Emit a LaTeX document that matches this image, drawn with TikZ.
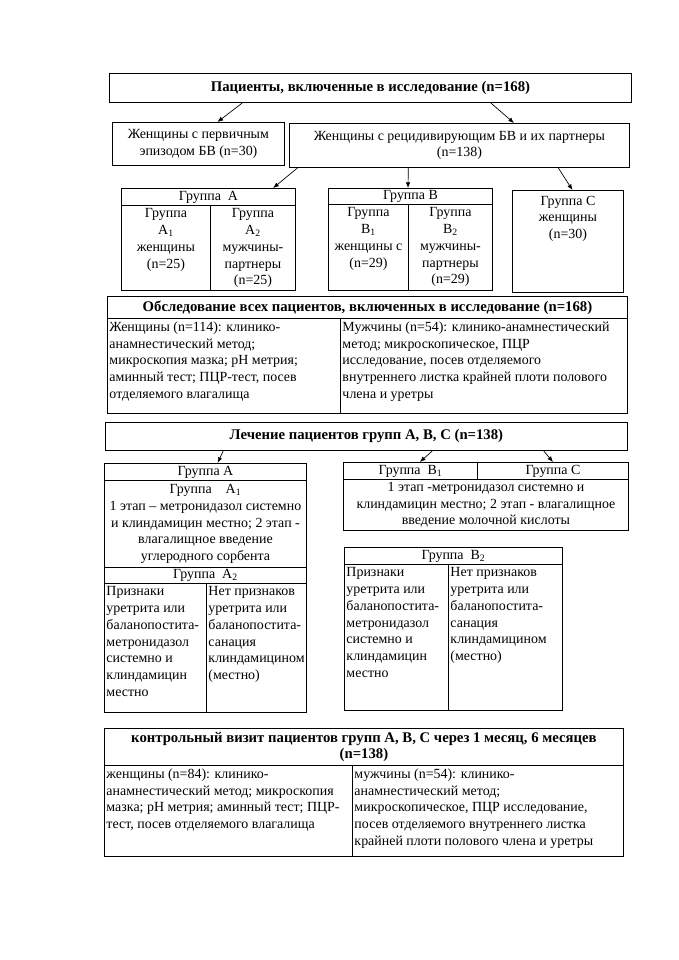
\documentclass[tikz,border=0pt]{standalone}
\usepackage{fontspec}
\setmainfont{Liberation Serif}
\usetikzlibrary{positioning,arrows.meta,calc}
\newcommand{\pxl}{0.031cm}
\newcommand{\headfont}{\fontsize{13}{14.6}\selectfont\bfseries}

\begin{document}
\begin{tikzpicture}[
        x=\pxl, y=-\pxl,
        >={Latex[length=5pt,width=4pt]},
        font=\fontsize{12.3}{14.8}\selectfont,
        cell/.style 2 args={
            draw,
            line width=0.8pt,
            anchor=north west,
            inner sep=1pt,
            minimum width=#1*\pxl,
            minimum height=#2*\pxl,
            align=center
        },
        txt/.style={inner sep=1pt, align=center},
        ltxt/.style={inner sep=2pt, align=left, anchor=north west, yshift=-1pt},
        link/.style={->, line width=0.6pt}
    ]
        \useasboundingbox (0,0) rectangle (678,960);

        % all patients
        \node[cell={522}{29}, font=\headfont] (all) at (109,73) {Пациенты, включенные в исследование (n=168)};
        \node[cell={172}{43}] (prim) at (112,122) {Женщины с первичным\\эпизодом БВ (n=30)};
        \node[cell={340}{44}] (recur) at (289,123) {Женщины с рецидивирующим БВ и их партнеры\\(n=138)};

        % groups A, B, C
        \node[cell={174}{17}] (grA) at (121,188) {Группа\ \ A};
        \node[cell={89}{85}] (grA1) at (121,205) {};
        \node[cell={85}{85}] (grA2) at (210,205) {};
        \node[txt, below=2pt of grA1.north] (grA1t) {Группа\\A\textsubscript{1}\\женщины\\(n=25)};
        \node[txt, below=2pt of grA2.north] (grA2t) {Группа\\A\textsubscript{2}\\мужчины-\\партнеры\\(n=25)};

        \node[cell={164}{16}] (grB) at (328,188) {Группа B};
        \node[cell={80}{86}] (grB1) at (328,204) {};
        \node[cell={84}{86}] (grB2) at (408,204) {};
        \node[txt, below=2pt of grB1.north] (grB1t) {Группа\\B\textsubscript{1}\\женщины с\\(n=29)};
        \node[txt, below=2pt of grB2.north] (grB2t) {Группа\\B\textsubscript{2}\\мужчины-\\партнеры\\(n=29)};

        \node[cell={111}{102}] (grC) at (512,190) {};
        \node[txt, below=4pt of grC.north] (grCt) {Группа C\\женщины\\(n=30)};

        \draw[link] ($(all.south west)!0.255!(all.south east)$) -- ($(prim.north west)!0.61!(prim.north east)$);
        \draw[link] ($(all.south west)!0.73!(all.south east)$) -- ($(recur.north west)!0.66!(recur.north east)$);
        \draw[link] ($(recur.south west)!0.025!(recur.south east)$) -- ($(grA.north west)!0.87!(grA.north east)$);
        \draw[link] ($(recur.south west)!0.35!(recur.south east)$) -- (grB.north -| grB2.west);
        \draw[link] ($(recur.south west)!0.79!(recur.south east)$) -- ($(grC.north west)!0.54!(grC.north east)$);

        % examination
        \node[cell={520}{22}, font=\headfont] (exam) at (107,296) {Обследование всех пациентов, включенных в исследование (n=168)};
        \node[cell={233}{95}] (examF) at (107,318) {};
        \node[cell={287}{95}] (examM) at (340,318) {};
        \node[ltxt] (examFt) at (examF.north west) {Женщины (n=114): клинико-\\анамнестический метод;\\микроскопия мазка; pH метрия;\\аминный тест; ПЦР-тест, посев\\отделяемого влагалища};
        \node[ltxt] (examMt) at (examM.north west) {Мужчины (n=54): клинико-анамнестический\\метод; микроскопическое, ПЦР\\исследование, посев отделяемого\\внутреннего листка крайней плоти полового\\члена и уретры};

        % treatment
        \node[cell={522}{28}, font=\headfont] (treat) at (105,422) {Лечение пациентов групп A, B, C (n=138)};

        \node[cell={202}{17}] (trA) at (104,463) {Группа A};
        \node[cell={202}{87}] (trA1) at (104,480) {Группа\quad A\textsubscript{1}\\1 этап – метронидазол системно\\и клиндамицин местно; 2 этап -\\влагалищное введение\\углеродного сорбента};
        \node[cell={202}{16}] (trA2) at (104,567) {Группа\ \ A\textsubscript{2}};
        \node[cell={102}{129}] (trA2l) at (104,583) {};
        \node[cell={100}{129}] (trA2r) at (206,583) {};
        \node[ltxt] (trA2lt) at (trA2l.north west) {Признаки\\уретрита или\\баланопостита-\\метронидазол\\системно и\\клиндамицин\\местно};
        \node[ltxt] (trA2rt) at (trA2r.north west) {Нет признаков\\уретрита или\\баланопостита-\\санация\\клиндамицином\\(местно)};

        \node[cell={134}{17}] (trB1) at (343,462) {Группа\ \ B\textsubscript{1}};
        \node[cell={151}{17}] (trC) at (477,462) {Группа C};
        \node[cell={285}{51}] (trBC) at (343,479) {1 этап -метронидазол системно и\\клиндамицин местно; 2 этап - влагалищное\\введение молочной кислоты};

        \node[cell={218}{17}] (trB2) at (344,547) {Группа\ \ B\textsubscript{2}};
        \node[cell={104}{146}] (trB2l) at (344,564) {};
        \node[cell={114}{146}] (trB2r) at (448,564) {};
        \node[ltxt] (trB2lt) at (trB2l.north west) {Признаки\\уретрита или\\баланопостита-\\метронидазол\\системно и\\клиндамицин\\местно};
        \node[ltxt] (trB2rt) at (trB2r.north west) {Нет признаков\\уретрита или\\баланопостита-\\санация\\клиндамицином\\(местно)};

        \draw[link] ($(treat.south west)!0.226!(treat.south east)$) -- ($(trA.north west)!0.56!(trA.north east)$);
        \draw[link] ($(treat.south west)!0.626!(treat.south east)$) -- ($(trB1.north west)!0.57!(trB1.north east)$);
        \draw[link] ($(treat.south west)!0.839!(treat.south east)$) -- ($(trC.north west)!0.5!(trC.north east)$);

        % control visit
        \node[cell={519}{37}, font=\headfont] (ctrl) at (104,728) {контрольный визит пациентов групп A, B, C через 1 месяц, 6 месяцев\\(n=138)};
        \node[cell={248}{91}] (ctrlF) at (104,765) {};
        \node[cell={271}{91}] (ctrlM) at (352,765) {};
        \node[ltxt] (ctrlFt) at (ctrlF.north west) {женщины (n=84): клинико-\\анамнестический метод; микроскопия\\мазка; pH метрия; аминный тест; ПЦР-\\тест, посев отделяемого влагалища};
        \node[ltxt] (ctrlMt) at (ctrlM.north west) {мужчины (n=54): клинико-\\анамнестический метод;\\микроскопическое, ПЦР исследование,\\посев отделяемого внутреннего листка\\крайней плоти полового члена и уретры};
    \end{tikzpicture}
\end{document}
